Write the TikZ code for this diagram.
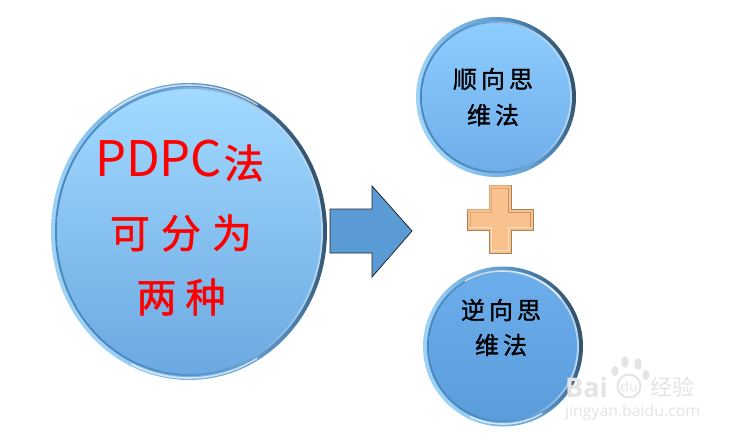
\documentclass[tikz,border=0pt]{standalone}
\usepackage{fontspec}
\setmainfont{Liberation Sans}
\newfontfamily\cjk[FakeBold=1.2]{Noto Sans CJK SC}
\newfontfamily\cjklat{Noto Sans CJK SC}
\newfontfamily\cjkplain{Noto Sans CJK SC}
\newfontfamily\latinf{Open Sans}
\usetikzlibrary{shapes.geometric}
\definecolor{rimZ}{HTML}{9CD2F6}
\definecolor{rimA}{HTML}{7DB9E8}
\definecolor{rimB}{HTML}{6AA6D8}
\definecolor{rimC}{HTML}{4F88B8}
\definecolor{rimD}{HTML}{34546F}
\pgfdeclarehorizontalshading{rimshade}{100bp}{
  color(0bp)=(rimZ); color(30bp)=(rimZ); color(42bp)=(rimA); color(52bp)=(rimB);
  color(62bp)=(rimC); color(74bp)=(rimD); color(100bp)=(rimD)}
\definecolor{ringA}{HTML}{4B86BC}
\definecolor{ringB}{HTML}{5E9AD0}
\definecolor{ringC}{HTML}{B4D6F0}
\pgfdeclarehorizontalshading{ringshade}{100bp}{
  color(0bp)=(ringA); color(32bp)=(ringA); color(50bp)=(ringB); color(70bp)=(ringC); color(100bp)=(ringC)}
\definecolor{arrowblue}{HTML}{5B9BD5}
\definecolor{plusfill}{HTML}{F9C18E}
\definecolor{plusdark}{HTML}{A98058}
\definecolor{plusmid}{HTML}{DDA878}
\definecolor{pluslight}{HTML}{FFE2C0}
\definecolor{wm}{HTML}{E4E4E4}
\definecolor{bigtop}{HTML}{A2DAFF}
\definecolor{bigbot}{HTML}{6CA8E2}
\definecolor{upptop}{HTML}{8ECDFF}
\definecolor{uppbot}{HTML}{6EADEA}
\definecolor{lowtop}{HTML}{6CADEB}
\definecolor{lowbot}{HTML}{5B9CDB}
\tikzset{
  x=1pt,y=-1pt,
  rim/.style={ellipse,inner sep=0pt,shading=rimshade,shading angle=15},
  ring/.style={ellipse,inner sep=0pt,shading=ringshade,shading angle=15},
  face/.style={ellipse,inner sep=0pt},
  hilite/.style={draw=white,opacity=.65,line width=1.6pt,line cap=round},
  bigtxt/.style={text=red,font=\cjk\fontsize{40}{42}\selectfont,inner sep=0pt},
  smalltxt/.style={text=black,font=\cjk\fontsize{24}{26}\selectfont,inner sep=0pt},
  plusshape/.style={draw=plusdark,line width=1pt,fill=plusfill},
  wmtxt/.style={text=wm,inner sep=0pt},
  pad/.style={fill=wm,draw=none}
}
\begin{document}
\begin{tikzpicture}
\useasboundingbox (0,0) rectangle (737,437);
% big circle
\node[rim,minimum width=276pt,minimum height=297pt] (bigrim) at (189,231.5) {};
\node[ring,minimum width=268pt,minimum height=289pt] (bigring) at (189,231.5) {};
\node[face,minimum width=264pt,minimum height=285pt,top color=bigtop,bottom color=bigbot] (bigface) at (189,231.5) {};
\draw[hilite] (189,231.5) ++(-125:136 and 146.5) arc[start angle=-125,end angle=-60,x radius=136,y radius=146.5];
\draw[hilite] (189,231.5) ++(60:136 and 146.5) arc[start angle=60,end angle=115,x radius=136,y radius=146.5];
% upper circle
\node[rim,minimum width=160pt,minimum height=160pt] (uprim) at (496,97) {};
\node[ring,minimum width=152pt,minimum height=152pt] (upring) at (496,97) {};
\node[face,minimum width=148pt,minimum height=148pt,top color=upptop,bottom color=uppbot] (upface) at (496,97) {};
% lower circle
\node[rim,minimum width=160pt,minimum height=160pt] (lowrim) at (503,346.5) {};
\node[ring,minimum width=152pt,minimum height=152pt] (lowring) at (503,346.5) {};
\node[face,minimum width=148pt,minimum height=148pt,top color=lowtop,bottom color=lowbot] (lowface) at (503,346.5) {};
\draw[hilite] (503,346.5) ++(-120:75.5) arc[start angle=-120,end angle=-40,radius=75.5];
\draw[hilite] (503,346.5) ++(60:77.5) arc[start angle=60,end angle=115,radius=77.5];
% arrow
\draw[draw=black!85,line width=.8pt,fill=arrowblue,line join=miter]
  (330,209) -- (372,209) -- (372,186) -- (412,231) -- (372,277) -- (372,253) -- (330,253) -- cycle;
% plus
\draw[plusshape] (489,185) -- (511,185) -- (511,209) -- (533,209) -- (533,230) -- (511,230) -- (511,253) -- (489,253) -- (489,230) -- (467,230) -- (467,209) -- (489,209) -- cycle;
\draw[plusmid,line width=1pt] (467,209) -- (489,209) -- (489,185) -- (511,185);
\draw[plusmid,line width=.8pt] (491.5,250) -- (491.5,227) -- (470,227) -- (470,212) -- (491.5,212) -- (491.5,188) -- (508.5,188);
\draw[pluslight,line width=.9pt] (470,227.5) -- (491.5,227.5) -- (491.5,250.5) -- (508.5,250.5) -- (508.5,227.5) -- (530,227.5);
\draw[plusdark!70!plusfill,line width=.8pt] (508.5,188) -- (508.5,212) -- (530,212) -- (530,227);
% texts
\node[bigtxt,anchor=west,font=\cjkplain\fontsize{49}{50}\selectfont] (t1) at (95,159) {PDPC};
\node[bigtxt,anchor=east] (t1b) at (264,163) {法};
\node[bigtxt] (t2) at (181,233) {可\hspace{11pt}分\hspace{11pt}为};
\node[bigtxt] (t3) at (181,297) {两\hspace{9pt}种};
\node[smalltxt] (u1) at (493,79) {顺\hspace{4pt}向\hspace{4pt}思};
\node[smalltxt] (u2) at (493,115) {维\hspace{4pt}法};
\node[smalltxt] (l1) at (501,310) {逆\hspace{4pt}向\hspace{4pt}思};
\node[smalltxt] (l2) at (501,345) {维\hspace{4pt}法};
% watermark
\node[wmtxt,font=\latinf\bfseries\fontsize{27}{29}\selectfont,anchor=west] (wmB) at (565,387) {Bai};
\node[wmtxt,circle,draw=wm,line width=2pt,minimum size=23pt,font=\latinf\fontsize{14}{15}\selectfont] (wmdu) at (629,386) {du};
\fill[pad] (615,371) ellipse[x radius=3.5,y radius=5];
\fill[pad] (625,362) ellipse[x radius=3.5,y radius=6];
\fill[pad] (638,364) ellipse[x radius=3.5,y radius=6];
\fill[pad] (646,375) ellipse[x radius=3.5,y radius=5];
\node[wmtxt,font=\cjkplain\fontsize{22}{24}\selectfont,anchor=west] (wmjy) at (650,387) {经验};
\node[wmtxt,font=\latinf\fontsize{15.8}{17}\selectfont,anchor=west] (wmurl) at (565,412) {jingyan.baidu.com};
\end{tikzpicture}
\end{document}
